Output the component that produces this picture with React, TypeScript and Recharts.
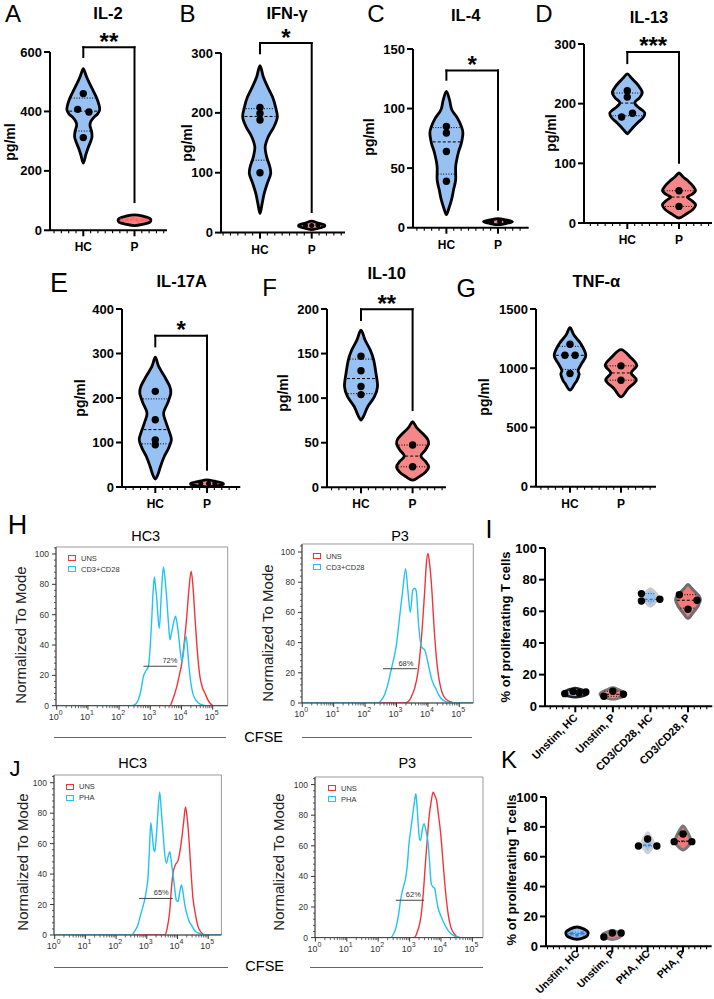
import React from 'react';
import {
  ScatterChart, Scatter, XAxis, YAxis, ReferenceLine, ReferenceArea,
  LineChart, Line, Legend,
} from 'recharts';

const FONT = "'Liberation Sans', Arial, Helvetica, sans-serif";
const HC_FILL = '#97c1f2';
const P_FILL = '#f48787';

type Pair = [number, number];

// ================= DATA =================
// Violin profile: [value, half-width (category units)] from top tip to bottom tip
// Points: [horizontal jitter, value]; Quartiles: [q1, median, q3]
const cytoGroups = ['HC', 'P'];

const il2Ticks = [0, 200, 400, 600];
const il2HcProfile: Pair[] = [[544,0],[530,0.035],[516,0.065],[495,0.12],[471,0.19],[450,0.25],[437,0.28],[420,0.31],[406,0.32],[392,0.28],[381,0.21],[367,0.15],[353,0.13],[334,0.16],[314,0.17],[297,0.14],[280,0.1],[255,0.05],[226,0]];
const il2HcPoints: Pair[] = [[0,460],[-0.11,407],[0.11,398],[0,312]];
const il2HcQuart = [334, 401, 445];
const il2PProfile: Pair[] = [[52,0],[47,0.18],[40,0.3],[34,0.32],[27,0.3],[21,0.18],[16,0]];
const il2PPoints: Pair[] = [[-0.14,36],[-0.02,40],[0.07,31],[0.16,35]];
const il2PQuart = [31, 35, 39];

const ifnTicks = [0, 100, 200, 300];
const ifnHcProfile: Pair[] = [[279,0],[260,0.065],[243,0.15],[226,0.245],[210,0.3],[193,0.335],[176,0.265],[160,0.16],[143,0.1],[126,0.13],[110,0.19],[98,0.205],[82,0.14],[65,0.08],[48,0.04],[32,0]];
const ifnHcPoints: Pair[] = [[0,209],[0,199],[0,188],[0,100]];
const ifnHcQuart = [121, 194, 207];
const ifnPProfile: Pair[] = [[19,0],[16,0.12],[13,0.24],[10,0.24],[7,0.12],[5,0]];
const ifnPPoints: Pair[] = [[-0.12,12],[0.12,12.5],[0,12]];

const il4Ticks = [0, 50, 100, 150];
const il4HcProfile: Pair[] = [[114.5,0],[107.5,0.06],[99,0.105],[92,0.215],[85,0.29],[79.5,0.32],[71,0.29],[62.7,0.23],[51.5,0.18],[40.3,0.18],[32,0.14],[23.5,0.1],[16.5,0.05],[10.9,0]];
const il4HcPoints: Pair[] = [[0,85],[0,79.5],[0,64],[0,39]];
const il4HcQuart = [45, 72, 84];
const il4PProfile: Pair[] = [[7.5,0],[6.5,0.15],[5,0.28],[3.5,0.15],[2.5,0]];
const il4PPoints: Pair[] = [[-0.12,5],[0.03,5],[0.15,5]];

const il13Ticks = [0, 100, 200, 300];
const il13HcProfile: Pair[] = [[250,0],[243,0.08],[235,0.17],[226,0.25],[218,0.29],[210,0.24],[202,0.145],[195,0.2],[189,0.29],[184,0.34],[176,0.3],[168,0.2],[160,0.11],[154,0.05],[149.6,0]];
const il13HcPoints: Pair[] = [[0,221.6],[0,211],[0.1,184],[-0.11,177.6]];
const il13HcQuart = [179.7, 201, 217.8];
const il13PProfile: Pair[] = [[83.8,0],[77,0.08],[70,0.18],[62,0.27],[54,0.32],[48,0.25],[43.5,0.16],[38,0.24],[30.6,0.32],[22,0.26],[15,0.14],[8.4,0]];
const il13PPoints: Pair[] = [[0,54],[0,27.8]];
const il13PQuart = [27.8, 43.5, 54];

const il17Ticks = [0, 100, 200, 300, 400];
const il17HcProfile: Pair[] = [[292,0],[271,0.065],[249,0.175],[226,0.28],[211,0.3],[189,0.24],[166,0.16],[144,0.21],[121,0.28],[106,0.31],[88,0.26],[69,0.175],[46,0.1],[28,0.05],[18,0]];
const il17HcPoints: Pair[] = [[0,215],[0,151],[0,106],[0,95]];
const il17HcQuart = [97, 129, 198];
const il17PProfile: Pair[] = [[16,0],[13,0.15],[9,0.3],[5,0.3],[2,0.15],[0.5,0]];
const il17PPoints: Pair[] = [[-0.12,8],[0.03,8],[0.15,8]];

const il10Ticks = [0, 50, 100, 150, 200];
const il10HcProfile: Pair[] = [[176.4,0],[165,0.08],[154,0.18],[143,0.245],[128,0.29],[113,0.32],[101.6,0.26],[90.4,0.13],[81,0.06],[75.5,0]];
const il10HcPoints: Pair[] = [[0,147],[0,130.7],[0,113],[0,104]];
const il10HcQuart = [105, 122, 143.8];
const il10PProfile: Pair[] = [[73.5,0],[67,0.08],[60,0.2],[54,0.29],[49,0.31],[42,0.25],[35,0.16],[29,0.25],[23,0.31],[17,0.25],[12,0.13],[8,0]];
const il10PPoints: Pair[] = [[0,47.4],[0,23]];
const il10PQuart = [23, 35, 47.4];

const tnfTicks = [0, 500, 1000, 1500];
const tnfHcProfile: Pair[] = [[1343,0],[1278,0.08],[1208,0.21],[1110,0.31],[1040,0.23],[983,0.16],[950,0.18],[900,0.14],[871,0.095],[815,0]];
const tnfHcPoints: Pair[] = [[0,1202],[-0.1,1109],[0.1,1109],[0,955]];
const tnfHcQuart = [990, 1109, 1185];
const tnfPProfile: Pair[] = [[1157,0],[1095,0.18],[1025,0.31],[960,0.2],[899,0.3],[829,0.14],[758,0]];
const tnfPPoints: Pair[] = [[0,1020],[0,899]];
const tnfPQuart = [899, 960, 1020];

// ===== Proliferation (% of proliferating T cells)
const pctTicks = [0, 20, 40, 60, 80, 100];
const cd3Groups = ['Unstim, HC', 'Unstim, P', 'CD3/CD28, HC', 'CD3/CD28, P'];
const cd3UnHcProfile: Pair[] = [[11.5,0],[10.3,0.2],[9,0.33],[7.5,0.3],[6.3,0.18],[5.7,0]];
const cd3UnHcPoints: Pair[] = [[-0.28,8],[-0.06,9.3],[0.1,8.6],[0.28,9]];
const cd3UnPProfile: Pair[] = [[11.8,0],[10.5,0.16],[9,0.3],[7.5,0.35],[6,0.28],[5,0.15],[4.4,0]];
const cd3UnPPoints: Pair[] = [[-0.24,6.3],[0,9.5],[0.28,7.6]];
const cd3UnPQuart = [6.3, 7.6, 9.5];
const cd3HcProfile: Pair[] = [[74.3,0],[72.5,0.1],[70.5,0.17],[68.5,0.19],[66.5,0.15],[64.5,0.08],[63.2,0]];
const cd3HcPoints: Pair[] = [[-0.24,71.2],[-0.24,66.5],[0.25,67.6]];
const cd3HcQuart = [66.5, 67.6, 71.2];
const cd3PProfile: Pair[] = [[77,0],[74.5,0.1],[72,0.2],[69.5,0.3],[67,0.33],[64,0.28],[61,0.2],[58,0.1],[55.4,0]];
const cd3PPoints: Pair[] = [[-0.23,70.5],[0.24,67],[0,61.3]];
const cd3PQuart = [62, 67, 70.5];

const phaGroups = ['Unstim, HC', 'Unstim, P', 'PHA, HC', 'PHA, P'];
const phaUnHcProfile: Pair[] = [[12.9,0],[11.5,0.2],[9.5,0.31],[7.5,0.3],[5.8,0.2],[4.7,0]];
const phaUnHcPoints: Pair[] = [[-0.15,8.5],[0,7.5],[0.15,8.8]];
const phaUnHcQuart = [7.5, 8.5, 9.5];
const phaUnPProfile: Pair[] = [[10.5,0],[9.3,0.18],[7.8,0.28],[6.3,0.22],[5,0.1],[4.5,0]];
const phaUnPPoints: Pair[] = [[-0.24,6.2],[0,8.9],[0.25,8.9]];
const phaHcProfile: Pair[] = [[76,0],[73.5,0.08],[71,0.14],[68.5,0.16],[66,0.12],[64,0.06],[62.5,0]];
const phaHcPoints: Pair[] = [[0,71.9],[-0.26,67.2],[0.26,67.2]];
const phaHcQuart = [67.2, 67.8, 71.9];
const phaPProfile: Pair[] = [[80.5,0],[77.5,0.1],[74,0.18],[71,0.22],[68,0.18],[66,0.1],[64.5,0]];
const phaPPoints: Pair[] = [[0,75.2],[-0.25,70.1],[0.25,70.1]];
const phaPQuart = [70.1, 70.5, 75.2];

// ===== CFSE histograms: [log10(CFSE), % of mode]
const flowDecades = [0, 1, 2, 3, 4, 5];
const hHcCd3: Pair[] = [[0,0],[2.4,0],[2.55,1.5],[2.62,4],[2.7,10],[2.78,19.3],[2.86,23],[2.94,26],[3.0,40],[3.04,54.5],[3.09,75],[3.13,84.8],[3.17,78],[3.21,70],[3.25,58],[3.29,51],[3.35,72],[3.42,91.4],[3.47,84],[3.53,70],[3.58,55],[3.63,43.5],[3.67,47],[3.71,51],[3.76,56],[3.81,59],[3.86,54],[3.9,48],[3.95,38],[4.01,29],[4.06,34],[4.1,41],[4.15,45.7],[4.2,36],[4.25,23.7],[4.3,15],[4.36,8.4],[4.45,4],[4.54,1.8],[4.65,0.6],[4.81,0],[5.5,0]];
const hHcUns: Pair[] = [[0,0],[3.63,0],[3.72,4],[3.85,12.7],[3.93,20],[4.01,28],[4.09,42],[4.17,59],[4.24,77],[4.31,88.6],[4.37,78],[4.43,59],[4.5,38],[4.59,19.3],[4.67,12],[4.75,8.4],[4.83,4.5],[4.91,1.8],[5.02,0],[5.5,0]];
const hP3Cd3: Pair[] = [[0,0],[2.41,0],[2.52,2],[2.62,5.5],[2.72,12],[2.83,22],[2.92,30],[2.99,37.5],[3.1,57],[3.2,75],[3.29,89],[3.36,75],[3.44,60],[3.52,75],[3.58,76],[3.63,74],[3.7,53],[3.79,37.5],[3.85,36],[3.9,35],[3.98,28.7],[4.05,22],[4.11,16.5],[4.19,12],[4.27,8.8],[4.34,5.5],[4.41,3.3],[4.55,1],[4.73,0],[5.5,0]];
const hP3Uns: Pair[] = [[0,0],[3.27,0],[3.4,1.5],[3.47,4],[3.58,10],[3.68,20],[3.79,42],[3.9,75],[3.95,92],[4.0,99],[4.05,93],[4.11,79.5],[4.21,46],[4.28,28],[4.34,17.6],[4.41,10],[4.48,5.5],[4.58,2.5],[4.69,1],[4.85,0],[5.5,0]];
const jHcPha: Pair[] = [[0,0],[2.5,0],[2.62,3],[2.7,6],[2.77,11],[2.85,17],[2.93,23],[2.99,30],[3.04,38],[3.09,58],[3.13,73.8],[3.18,65],[3.22,57],[3.26,54.7],[3.3,62],[3.36,80],[3.42,94],[3.47,82],[3.53,66.8],[3.58,54],[3.64,47],[3.7,52],[3.75,54.7],[3.8,48],[3.85,40.5],[3.9,32],[3.96,23],[4.02,22],[4.08,29],[4.13,32.8],[4.18,28],[4.23,20.8],[4.3,14],[4.37,9.5],[4.45,6.6],[4.58,2.5],[4.72,1],[4.85,0],[5.5,0]];
const jHcUns: Pair[] = [[0,0],[3.58,0],[3.66,4],[3.75,16.4],[3.8,30],[3.85,40],[3.93,46],[4.02,49],[4.08,55],[4.13,62],[4.2,74],[4.26,84],[4.31,78],[4.36,66.8],[4.43,45],[4.5,25],[4.58,14],[4.67,5.5],[4.78,1.5],[4.89,0],[5.5,0]];
const jP3Pha: Pair[] = [[0,0],[2.4,0],[2.48,2],[2.56,6],[2.64,14],[2.72,25.5],[2.8,33],[2.88,39.6],[2.93,48],[2.98,61.4],[3.04,71],[3.09,78.8],[3.15,88],[3.2,94],[3.24,85],[3.28,72.3],[3.32,64],[3.35,63.6],[3.4,70],[3.46,74.5],[3.52,70],[3.59,61.4],[3.64,48],[3.69,35.3],[3.75,33],[3.8,32],[3.85,26],[3.9,20],[4.0,14],[4.1,9.2],[4.2,5.5],[4.31,2.6],[4.45,0.8],[4.6,0],[5.5,0]];
const jP3Uns: Pair[] = [[0,0],[3.14,0],[3.25,4],[3.36,13.5],[3.44,30],[3.51,50.5],[3.57,66],[3.62,78.8],[3.68,88],[3.75,95],[3.8,93],[3.86,89.7],[3.92,80],[3.99,68],[4.07,48],[4.15,28.8],[4.23,15],[4.31,7],[4.42,2.5],[4.52,0.5],[4.65,0],[5.5,0]];

// ================= HELPERS =================
type ViolinSpec = {
  cat: number; profile: Pair[]; points: Pair[]; quart?: number[];
  fill: string; stroke: string; sw: number; dotR: number; dotFill: string; qColor: string;
};
const mkV = (cat: number, profile: Pair[], points: Pair[], quart: number[] | undefined, fill: string, extra: Partial<ViolinSpec> = {}): ViolinSpec => ({
  cat, profile, points, quart, fill, stroke: '#000', sw: 2.8, dotR: 3.7, dotFill: '#000', qColor: '#000', ...extra,
});

function widthAt(profile: Pair[], q: number) {
  for (let i = 0; i < profile.length - 1; i++) {
    const [v1, w1] = profile[i];
    const [v2, w2] = profile[i + 1];
    if (q <= v1 && q >= v2) {
      const t = v1 === v2 ? 0 : (v1 - q) / (v1 - v2);
      return w1 + (w2 - w1) * t;
    }
  }
  return 0;
}

function outline(v: ViolinSpec) {
  const right = v.profile.map(([y, w]) => ({ x: v.cat + w, y }));
  const left = v.profile.slice(1, -1).reverse().map(([y, w]) => ({ x: v.cat - w, y }));
  return [...right, ...left];
}

function closedPath(pts: { x: number; y: number }[]) {
  const n = pts.length;
  if (!n) return '';
  let d = `M${pts[0].x},${pts[0].y}`;
  for (let i = 0; i < n; i++) {
    const p0 = pts[(i - 1 + n) % n], p1 = pts[i], p2 = pts[(i + 1) % n], p3 = pts[(i + 2) % n];
    const c1x = p1.x + (p2.x - p0.x) / 6, c1y = p1.y + (p2.y - p0.y) / 6;
    const c2x = p2.x - (p3.x - p1.x) / 6, c2y = p2.y - (p3.y - p1.y) / 6;
    d += ` C${c1x},${c1y} ${c2x},${c2y} ${p2.x},${p2.y}`;
  }
  return d + ' Z';
}

const NoShape = () => <g />;

type Bracket = { top: number; leftFoot: number; rightFoot: number; stars: string };
type ViolinPanelSpec = {
  axisX: number; xEnd: number; yTop: number; yBot: number; catPx: number[];
  yMax: number; yTicks: number[]; labels: string[]; sub: number;
  violins: ViolinSpec[]; bracket?: Bracket; rotated?: { dy: number; fs: number };
};

function ViolinPanel({ s }: { s: ViolinPanelSpec }) {
  const YW = 60, TM = 50, RM = 2;
  const XH = s.rotated ? 70 : 30;
  const n = s.catPx.length;
  const unit = (s.catPx[n - 1] - s.catPx[0]) / (n - 1);
  const xMin = 1 - (s.catPx[0] - s.axisX) / unit;
  const xMax = 1 + (s.xEnd - s.catPx[0]) / unit;
  const width = YW + (s.xEnd - s.axisX) + RM;
  const height = TM + (s.yBot - s.yTop) + XH;
  const xTicks: number[] = [];
  for (let k = Math.ceil((xMin + 0.01) * s.sub); k / s.sub <= xMax - 0.03; k++) xTicks.push(k / s.sub);

  const XTick = (p: any) => {
    const v = p.payload.value;
    const isMajor = Math.abs(v - Math.round(v)) < 1e-6 && Math.round(v) >= 1 && Math.round(v) <= n;
    if (!isMajor) return <line x1={p.x} x2={p.x} y1={p.y} y2={p.y + 3} stroke="#000" strokeWidth={1.1} />;
    const label = s.labels[Math.round(v) - 1];
    return (
      <g>
        <line x1={p.x} x2={p.x} y1={p.y} y2={p.y + 6} stroke="#000" strokeWidth={2} />
        {s.rotated ? (
          <text transform={`translate(${p.x + 3},${p.y + s.rotated.dy}) rotate(-45)`} textAnchor="end" fontSize={s.rotated.fs} fontWeight={700} fontFamily={FONT} fill="#000">{label}</text>
        ) : (
          <text x={p.x} y={p.y + 21} textAnchor="middle" fontSize={12} fontWeight={700} fontFamily={FONT} fill="#000">{label}</text>
        )}
      </g>
    );
  };

  const b = s.bracket;
  const StarLabel = (p: any) => {
    const vb = p.viewBox || {};
    return (
      <text x={vb.x + vb.width / 2} y={vb.y + 2.5} textAnchor="middle" fontSize={24} fontWeight={700} fontFamily={FONT} fill="#000">{b ? b.stars : ''}</text>
    );
  };

  return (
    <div style={{ position: 'absolute', left: s.axisX - YW, top: s.yTop - TM }}>
      <ScatterChart width={width} height={height} margin={{ top: TM, right: RM, bottom: 0, left: 0 }}>
        <XAxis type="number" dataKey="x" domain={[xMin, xMax]} ticks={xTicks} interval={0} height={XH}
          tick={XTick} tickLine={false} tickSize={0} tickMargin={0}
          axisLine={{ stroke: '#000', strokeWidth: 2 }} />
        <YAxis type="number" dataKey="y" domain={[0, s.yMax]} ticks={s.yTicks} interval={0} width={YW}
          tickSize={6} tickMargin={2} tickLine={{ stroke: '#000', strokeWidth: 2 }}
          tick={{ fill: '#000', fontSize: 13, fontWeight: 700, fontFamily: FONT }}
          axisLine={{ stroke: '#000', strokeWidth: 2 }} />
        {s.violins.map((v, i) => (
          <Scatter key={`vio${i}`} data={outline(v)} shape={NoShape} isAnimationActive={false}
            line={(lp: any) => (
              <path d={closedPath(lp.points)} fill={v.fill} stroke={v.stroke} strokeWidth={v.sw} strokeLinejoin="round" />
            )} />
        ))}
        {s.violins.flatMap((v, i) => (v.quart || []).map((q, j) => {
          const hw = widthAt(v.profile, q) * 0.9;
          return (
            <Scatter key={`q${i}-${j}`} data={[{ x: v.cat - hw, y: q }, { x: v.cat + hw, y: q }]} shape={NoShape}
              isAnimationActive={false}
              line={{ stroke: v.qColor, strokeWidth: 1, strokeDasharray: j === 1 ? '3 2' : '1 1.6' }} />
          );
        }))}
        {s.violins.map((v, i) => (
          <Scatter key={`pts${i}`} data={v.points.map(([dx, y]) => ({ x: v.cat + dx, y }))} isAnimationActive={false}
            shape={(p: any) => <circle cx={p.cx} cy={p.cy} r={v.dotR} fill={v.dotFill} />} />
        ))}
        {b && (
          <ReferenceLine ifOverflow="visible" segment={[{ x: 1, y: b.leftFoot }, { x: 1, y: b.top }]} stroke="#000" strokeWidth={2} strokeLinecap="square" />
        )}
        {b && (
          <ReferenceLine ifOverflow="visible" segment={[{ x: 1, y: b.top }, { x: 2, y: b.top }]} stroke="#000" strokeWidth={2} strokeLinecap="square" label={StarLabel} />
        )}
        {b && (
          <ReferenceLine ifOverflow="visible" segment={[{ x: 2, y: b.top }, { x: 2, y: b.rightFoot }]} stroke="#000" strokeWidth={2} strokeLinecap="square" />
        )}
      </ScatterChart>
    </div>
  );
}

type FlowSeries = { name: string; color: string; data: Pair[] };
type FlowSpec = {
  boxL: number; boxR: number; boxT: number; boxB: number; y100: number; x0px: number; decade: number;
  series: FlowSeries[]; gate: { y: number; x1: number; x2: number; label: string; labelX: number };
  legendLeft: number; legendTop: number;
};

const FlowXTick = (p: any) => {
  const v = p.payload.value;
  const major = Math.abs(v - Math.round(v)) < 1e-6;
  if (!major) return <line x1={p.x} x2={p.x} y1={p.y} y2={p.y + 2.5} stroke="#444" strokeWidth={0.8} />;
  return (
    <g>
      <line x1={p.x} x2={p.x} y1={p.y} y2={p.y + 4} stroke="#333" strokeWidth={1} />
      <text x={p.x - 1} y={p.y + 14} textAnchor="middle" fontSize={9} fill="#333" fontFamily={FONT}>
        10<tspan dy={-4.5} fontSize={7}>{Math.round(v)}</tspan>
      </text>
    </g>
  );
};

const FlowYTick = (p: any) => {
  const v = p.payload.value;
  const major = Math.round(v) % 20 === 0;
  return (
    <g>
      <line x1={p.x} x2={p.x - (major ? 4 : 2)} y1={p.y} y2={p.y} stroke="#333" strokeWidth={major ? 1 : 0.8} />
      {major && (
        <text x={p.x - 7} y={p.y + 3} textAnchor="end" fontSize={8.5} fill="#333" fontFamily={FONT}>{v}</text>
      )}
    </g>
  );
};

function FlowPanel({ s }: { s: FlowSpec }) {
  const YW = 40, TM = 4, RM = 4, XH = 22;
  const xMin = (s.boxL - s.x0px) / s.decade;
  const xMax = (s.boxR - s.x0px) / s.decade;
  const yMax = (s.boxB - s.boxT) / ((s.boxB - s.y100) / 100);
  const width = YW + (s.boxR - s.boxL) + RM;
  const height = TM + (s.boxB - s.boxT) + XH;
  const xTicks: number[] = [];
  flowDecades.forEach((d) => {
    xTicks.push(d);
    if (d < 5) for (let m = 2; m <= 9; m++) xTicks.push(d + Math.log10(m));
  });
  const xTicksIn = xTicks.filter((t) => t >= xMin - 1e-6 && t <= xMax);
  const yTicks: number[] = [];
  for (let t = 0; t <= yMax; t += 4) yTicks.push(t);
  const g = s.gate;
  const GateLabel = (p: any) => {
    const vb = p.viewBox || {};
    const f = (g.labelX - g.x1) / (g.x2 - g.x1);
    return <text x={vb.x + vb.width * f} y={vb.y - 3} textAnchor="middle" fontSize={7.5} fill="#333" fontFamily={FONT}>{g.label}</text>;
  };
  const LegendContent = (p: any) => {
    const payload = p.payload || [];
    return (
      <div style={{ fontFamily: FONT, fontSize: 7.5, color: '#333', lineHeight: '11px' }}>
        {s.series.map((se) => {
          const item = payload.find((it: any) => it.value === se.name);
          const color = item ? item.color : se.color;
          return (
            <div key={se.name} style={{ display: 'flex', alignItems: 'center', height: 11 }}>
              <span style={{ display: 'inline-block', width: 6, height: 4, border: `1.2px solid ${color}`, marginRight: 5 }} />
              <span>{item ? item.value : se.name}</span>
            </div>
          );
        })}
      </div>
    );
  };
  return (
    <div style={{ position: 'absolute', left: s.boxL - YW, top: s.boxT - TM }}>
      <LineChart width={width} height={height} margin={{ top: TM, right: RM, bottom: 0, left: 0 }}>
        <XAxis type="number" dataKey="x" domain={[xMin, xMax]} ticks={xTicksIn} interval={0} height={XH}
          allowDataOverflow tick={FlowXTick} tickLine={false} tickSize={0} tickMargin={0}
          axisLine={{ stroke: '#444', strokeWidth: 1 }} />
        <YAxis type="number" domain={[0, yMax]} ticks={yTicks} interval={0} width={YW} allowDataOverflow
          tick={FlowYTick} tickLine={false} tickSize={0} tickMargin={0}
          axisLine={{ stroke: '#444', strokeWidth: 1 }} />
        <ReferenceArea x1={xMin} x2={xMax} y1={0} y2={yMax} fill="none" stroke="#9a9a9a" strokeWidth={1} ifOverflow="visible" />
        {s.series.map((se) => (
          <Line key={se.name} name={se.name} data={se.data.map(([x, y]) => ({ x, y }))} dataKey="y"
            type="monotone" stroke={se.color} strokeWidth={1.4} dot={false} activeDot={false} isAnimationActive={false} />
        ))}
        <ReferenceLine ifOverflow="visible" segment={[{ x: g.x1, y: g.y }, { x: g.x2, y: g.y }]} stroke="#444" strokeWidth={1} label={GateLabel} />
        <Legend layout="vertical" align="center" verticalAlign="middle" width={80} height={24}
          wrapperStyle={{ left: s.legendLeft - (s.boxL - YW), top: s.legendTop - (s.boxT - TM), width: 80, height: 24 }}
          content={LegendContent} />
      </LineChart>
    </div>
  );
}

// ================= PANEL SPECS =================
const panelA: ViolinPanelSpec = {
  axisX: 50, xEnd: 167, yTop: 51.7, yBot: 230, catPx: [83.3, 134.5], yMax: 600, yTicks: il2Ticks, labels: cytoGroups, sub: 7,
  violins: [mkV(1, il2HcProfile, il2HcPoints, il2HcQuart, HC_FILL), mkV(2, il2PProfile, il2PPoints, il2PQuart, P_FILL, { dotR: 1.6, dotFill: '#ff6a6a', qColor: '#ff5050' })],
  bracket: { top: 616, leftFoot: 583, rightFoot: 95, stars: '**' },
};
const panelB: ViolinPanelSpec = {
  axisX: 221, xEnd: 345, yTop: 52.7, yBot: 232.3, catPx: [260, 311.7], yMax: 300, yTicks: ifnTicks, labels: cytoGroups, sub: 7,
  violins: [mkV(1, ifnHcProfile, ifnHcPoints, ifnHcQuart, HC_FILL), mkV(2, ifnPProfile, ifnPPoints, undefined, P_FILL, { dotR: 2.5 })],
  bracket: { top: 316.7, leftFoot: 299.5, rightFoot: 34.4, stars: '*' },
};
const panelC: ViolinPanelSpec = {
  axisX: 413.3, xEnd: 529, yTop: 49.3, yBot: 228, catPx: [446.7, 498.3], yMax: 150, yTicks: il4Ticks, labels: cytoGroups, sub: 7,
  violins: [mkV(1, il4HcProfile, il4HcPoints, il4HcQuart, HC_FILL), mkV(2, il4PProfile, il4PPoints, undefined, P_FILL, { dotR: 2.5 })],
  bracket: { top: 132, leftFoot: 124.2, rightFoot: 15.1, stars: '*' },
};
const panelD: ViolinPanelSpec = {
  axisX: 584, xEnd: 712, yTop: 44.3, yBot: 223.3, catPx: [627.3, 679], yMax: 300, yTicks: il13Ticks, labels: cytoGroups, sub: 7,
  violins: [mkV(1, il13HcProfile, il13HcPoints, il13HcQuart, HC_FILL), mkV(2, il13PProfile, il13PPoints, il13PQuart, P_FILL)],
  bracket: { top: 286.6, leftFoot: 268, rightFoot: 101, stars: '***' },
};
const panelE: ViolinPanelSpec = {
  axisX: 121.7, xEnd: 240, yTop: 309.3, yBot: 487.3, catPx: [155, 206.7], yMax: 400, yTicks: il17Ticks, labels: cytoGroups, sub: 7,
  violins: [mkV(1, il17HcProfile, il17HcPoints, il17HcQuart, HC_FILL), mkV(2, il17PProfile, il17PPoints, undefined, P_FILL, { dotR: 2.5 })],
  bracket: { top: 340, leftFoot: 316, rightFoot: 38.9, stars: '*' },
};
const panelF: ViolinPanelSpec = {
  axisX: 326.7, xEnd: 445.7, yTop: 309, yBot: 487.3, catPx: [360.7, 412.3], yMax: 200, yTicks: il10Ticks, labels: cytoGroups, sub: 7,
  violins: [mkV(1, il10HcProfile, il10HcPoints, il10HcQuart, HC_FILL), mkV(2, il10PProfile, il10PPoints, il10PQuart, P_FILL)],
  bracket: { top: 199.7, leftFoot: 187.7, rightFoot: 86.7, stars: '**' },
};
const panelG: ViolinPanelSpec = {
  axisX: 535.7, xEnd: 655.7, yTop: 309, yBot: 486.7, catPx: [569.7, 620.7], yMax: 1500, yTicks: tnfTicks, labels: cytoGroups, sub: 7,
  violins: [mkV(1, tnfHcProfile, tnfHcPoints, tnfHcQuart, HC_FILL), mkV(2, tnfPProfile, tnfPPoints, tnfPQuart, P_FILL)],
};
const panelI: ViolinPanelSpec = {
  axisX: 544.7, xEnd: 712, yTop: 547.7, yBot: 706, catPx: [575, 612.3, 650, 687.7], yMax: 100, yTicks: pctTicks, labels: cd3Groups, sub: 6,
  rotated: { dy: 12, fs: 11 },
  violins: [
    mkV(1, cd3UnHcProfile, cd3UnHcPoints, undefined, HC_FILL, { stroke: '#222', sw: 2.5 }),
    mkV(2, cd3UnPProfile, cd3UnPPoints, cd3UnPQuart, P_FILL, { stroke: '#777', sw: 2.5 }),
    mkV(3, cd3HcProfile, cd3HcPoints, cd3HcQuart, '#9cc3f0', { stroke: '#cacaca', sw: 3, qColor: '#2b5fa8' }),
    mkV(4, cd3PProfile, cd3PPoints, cd3PQuart, '#f47a7a', { stroke: '#6e6e6e', sw: 3 }),
  ],
};
const panelK: ViolinPanelSpec = {
  axisX: 546.3, xEnd: 712, yTop: 796.7, yBot: 946, catPx: [577.3, 613.3, 648.3, 683.3], yMax: 100, yTicks: pctTicks, labels: phaGroups, sub: 6,
  rotated: { dy: 8, fs: 10.5 },
  violins: [
    mkV(1, phaUnHcProfile, phaUnHcPoints, phaUnHcQuart, HC_FILL, { stroke: '#000', sw: 3, dotR: 1.8, dotFill: '#3d7fd6', qColor: '#3d7fd6' }),
    mkV(2, phaUnPProfile, phaUnPPoints, undefined, '#e07f7f', { stroke: '#808080', sw: 3 }),
    mkV(3, phaHcProfile, phaHcPoints, phaHcQuart, '#9cc3f0', { stroke: '#d0d0d0', sw: 3, qColor: '#2b5fa8' }),
    mkV(4, phaPProfile, phaPPoints, phaPQuart, '#f47a7a', { stroke: '#777', sw: 3 }),
  ],
};

const CYAN = '#22c3f3';
const RED = '#f0353a';
const flowH1: FlowSpec = {
  boxL: 56, boxR: 227.7, boxT: 547.3, boxB: 706, y100: 554.3, x0px: 56.7, decade: 31.2,
  series: [{ name: 'UNS', color: RED, data: hHcUns }, { name: 'CD3+CD28', color: CYAN, data: hHcCd3 }],
  gate: { y: 26, x1: 2.78, x2: 3.85, label: '72%', labelX: 3.63 }, legendLeft: 68, legendTop: 553,
};
const flowH2: FlowSpec = {
  boxL: 301.7, boxR: 473, boxT: 544.3, boxB: 703.3, y100: 552.3, x0px: 302, decade: 31.4,
  series: [{ name: 'UNS', color: RED, data: hP3Uns }, { name: 'CD3+CD28', color: CYAN, data: hP3Cd3 }],
  gate: { y: 22.7, x1: 2.57, x2: 3.65, label: '68%', labelX: 3.3 }, legendLeft: 313, legendTop: 551,
};
const flowJ1: FlowSpec = {
  boxL: 54.3, boxR: 221.7, boxT: 775, boxB: 935, y100: 782.7, x0px: 55, decade: 30.7,
  series: [{ name: 'UNS', color: RED, data: jHcUns }, { name: 'PHA', color: CYAN, data: jHcPha }],
  gate: { y: 24, x1: 2.75, x2: 3.85, label: '65%', labelX: 3.47 }, legendLeft: 66, legendTop: 781,
};
const flowJ2: FlowSpec = {
  boxL: 315, boxR: 483, boxT: 776.7, boxB: 937.3, y100: 784.3, x0px: 315.4, decade: 31.4,
  series: [{ name: 'UNS', color: RED, data: jP3Uns }, { name: 'PHA', color: CYAN, data: jP3Pha }],
  gate: { y: 24.4, x1: 2.56, x2: 3.46, label: '62%', labelX: 3.12 }, legendLeft: 328, legendTop: 783,
};

// ================= TEXT =================
type T = { t: string; x: number; y: number; fs: number; w?: number; rot?: boolean; color?: string };
const letters: T[] = [
  { t: 'A', x: 13, y: 13.5, fs: 24 }, { t: 'B', x: 187.5, y: 13.5, fs: 24 }, { t: 'C', x: 376, y: 13.5, fs: 24 },
  { t: 'D', x: 544, y: 13.5, fs: 24 }, { t: 'E', x: 59, y: 282.5, fs: 27 }, { t: 'F', x: 269.5, y: 288, fs: 24 },
  { t: 'G', x: 466.3, y: 287.5, fs: 25 }, { t: 'H', x: 17.5, y: 525, fs: 27 }, { t: 'I', x: 489, y: 529, fs: 25 },
  { t: 'J', x: 15, y: 769, fs: 22 }, { t: 'K', x: 509, y: 760, fs: 24 },
];
const titles: T[] = [
  { t: 'IL-2', x: 108, y: 13, fs: 16.5, w: 700 }, { t: 'IFN-γ', x: 287, y: 13, fs: 16.5, w: 700 },
  { t: 'IL-4', x: 465.7, y: 15, fs: 16.5, w: 700 }, { t: 'IL-13', x: 649, y: 16.7, fs: 16.5, w: 700 },
  { t: 'IL-17A', x: 181.7, y: 280.7, fs: 16.5, w: 700 }, { t: 'IL-10', x: 386.7, y: 273.3, fs: 16.5, w: 700 },
  { t: 'TNF-α', x: 596.3, y: 280.7, fs: 16.5, w: 700 },
  { t: 'HC3', x: 145.7, y: 536, fs: 14.5 }, { t: 'P3', x: 400, y: 536, fs: 14.5 },
  { t: 'HC3', x: 132.7, y: 763.3, fs: 14.5 }, { t: 'P3', x: 407.3, y: 763.3, fs: 14.5 },
  { t: 'CFSE', x: 263.7, y: 736.7, fs: 14.5 }, { t: 'CFSE', x: 264.7, y: 966, fs: 14.5 },
];
const axisTitles: T[] = [
  { t: 'pg/ml', x: 10, y: 142, fs: 14, w: 700, rot: true }, { t: 'pg/ml', x: 187, y: 143, fs: 14, w: 700, rot: true },
  { t: 'pg/ml', x: 369, y: 137, fs: 14, w: 700, rot: true }, { t: 'pg/ml', x: 550.7, y: 133, fs: 14, w: 700, rot: true },
  { t: 'pg/ml', x: 80, y: 398, fs: 14, w: 700, rot: true }, { t: 'pg/ml', x: 283, y: 393, fs: 14, w: 700, rot: true },
  { t: 'pg/ml', x: 484, y: 396.7, fs: 14, w: 700, rot: true },
  { t: '% of proliferating T cells', x: 505, y: 626.7, fs: 13, w: 700, rot: true },
  { t: '% of proliferating T cells', x: 510.7, y: 870, fs: 13, w: 700, rot: true },
  { t: 'Normalized To Mode', x: 20, y: 635, fs: 15, rot: true, color: '#222' },
  { t: 'Normalized To Mode', x: 266.7, y: 633, fs: 15, rot: true, color: '#222' },
  { t: 'Normalized To Mode', x: 21.7, y: 861.7, fs: 15, rot: true, color: '#222' },
  { t: 'Normalized To Mode', x: 278.3, y: 861.7, fs: 15, rot: true, color: '#222' },
];
const rules = [
  { x1: 54, x2: 226, y: 737 }, { x1: 302, x2: 472, y: 737 },
  { x1: 54, x2: 228, y: 966.5 }, { x1: 310, x2: 483, y: 966.5 },
];

function Txt({ d }: { d: T }) {
  return (
    <div style={{
      position: 'absolute', left: d.x, top: d.y, transform: `translate(-50%, -50%)${d.rot ? ' rotate(-90deg)' : ''}`,
      fontFamily: FONT, fontSize: d.fs, fontWeight: d.w || 400, lineHeight: 1, whiteSpace: 'nowrap', color: d.color || '#000',
    }}>{d.t}</div>
  );
}

export default function App() {
  return (
    <div style={{ position: 'absolute', left: 0, top: 0, width: 714, height: 999, background: '#fff', overflow: 'hidden' }}>
      {[panelA, panelB, panelC, panelD, panelE, panelF, panelG, panelI, panelK].map((p, i) => <ViolinPanel key={i} s={p} />)}
      {[flowH1, flowH2, flowJ1, flowJ2].map((p, i) => <FlowPanel key={i} s={p} />)}
      {rules.map((r, i) => (
        <div key={i} style={{ position: 'absolute', left: r.x1, top: r.y, width: r.x2 - r.x1, height: 1, background: '#666' }} />
      ))}
      {[...letters, ...titles, ...axisTitles].map((d, i) => <Txt key={i} d={d} />)}
    </div>
  );
}
